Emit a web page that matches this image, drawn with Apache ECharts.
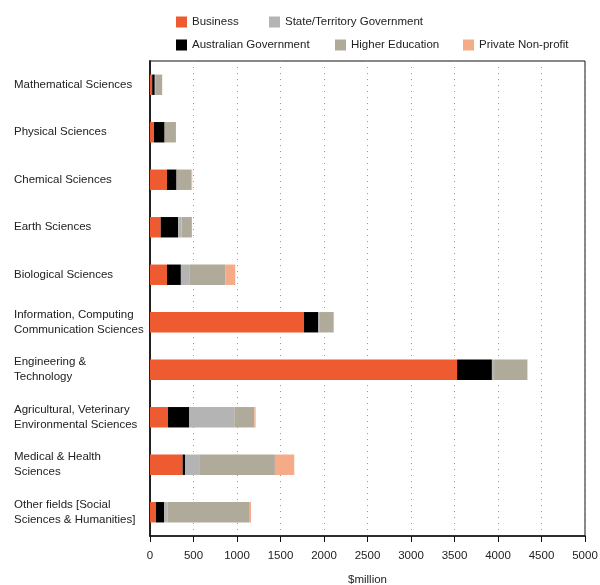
<!DOCTYPE html>
<html>
<head>
<meta charset="utf-8">
<script src="https://cdn.jsdelivr.net/npm/echarts@6/dist/echarts.min.js"></script>
<style>
  html, body { margin: 0; padding: 0; background: #fff; }
  #chart { width: 600px; height: 585px; }
</style>
</head>
<body>
<div id="chart"></div>
<script>
// categorias (de cima para baixo)
const categorias = [
  'Mathematical Sciences',
  'Physical Sciences',
  'Chemical Sciences',
  'Earth Sciences',
  'Biological Sciences',
  'Information, Computing\nCommunication Sciences',
  'Engineering &\nTechnology',
  'Agricultural, Veterinary\nEnvironmental Sciences',
  'Medical & Health\nSciences',
  'Other fields [Social\nSciences & Humanities]'
];

// $million por setor
const business       = [25, 45, 195, 123, 195, 1770, 3530, 207, 375, 69];
const ausGov         = [30, 123, 110, 200, 160, 165, 400, 245, 27, 92];
const stateGov       = [5, 0, 0, 40, 103, 10, 25, 517, 172, 42];
const higherEd       = [80, 130, 172, 118, 407, 160, 380, 230, 862, 935];
const privateNonProf = [0, 0, 8, 0, 115, 10, 5, 15, 222, 23];

const xTicks = [0, 500, 1000, 1500, 2000, 2500, 3000, 3500, 4000, 4500, 5000];

const cores = {
  'Business': '#EE5B30',
  'Australian Government': '#000000',
  'State/Territory Government': '#B4B4B4',
  'Higher Education': '#B0AA9A',
  'Private Non-profit': '#F5AB88'
};

const fonte = 'Liberation Sans, Arial, sans-serif';

function serie(nome, dados) {
  return {
    name: nome,
    type: 'bar',
    stack: 'total',
    barWidth: '43%',
    data: dados,
    itemStyle: { color: cores[nome] }
  };
}

// uma legenda por item para posicionar igual ao original
function legenda(nome, left, top) {
  return {
    data: [nome],
    left: left,
    top: top,
    itemWidth: 11,
    itemHeight: 11,
    icon: 'rect',
    padding: 0,
    itemGap: 0,
    textStyle: { fontFamily: fonte, fontSize: 11.5, color: '#222' },
    selectedMode: false
  };
}

const grafico = echarts.init(document.getElementById('chart'));

const opcoes = {
  animation: false,
  legend: [
    legenda('Business', 176, 16),
    legenda('State/Territory Government', 269, 16),
    legenda('Australian Government', 176, 39),
    legenda('Higher Education', 335, 39),
    legenda('Private Non-profit', 463, 39)
  ],
  grid: {
    left: 150,
    right: 15,
    top: 61,
    bottom: 49,
    outerBoundsMode: 'none',
    containLabel: false,
    show: true,
    borderColor: '#111',
    borderWidth: 1
  },
  xAxis: {
    type: 'value',
    min: 0,
    max: 5000,
    interval: 500,
    name: '$million',
    nameLocation: 'middle',
    nameGap: 38,
    nameTextStyle: { fontFamily: fonte, fontSize: 11.5, color: '#222' },
    axisLine: { show: true, lineStyle: { color: '#111', width: 1.5 } },
    axisTick: { show: true, length: 6, lineStyle: { color: '#111' } },
    axisLabel: {
      fontFamily: fonte, fontSize: 11.5, color: '#222', margin: 14,
      formatter: v => xTicks.includes(v) ? String(v) : ''
    },
    splitLine: { show: true, lineStyle: { color: '#999', type: [1, 5], width: 1 } }
  },
  yAxis: {
    type: 'category',
    data: categorias,
    inverse: true,
    axisLine: { show: true, lineStyle: { color: '#222', width: 2 } },
    axisTick: { show: false },
    axisLabel: {
      fontFamily: fonte, fontSize: 11.5, color: '#222',
      align: 'left', margin: 136, lineHeight: 15
    }
  },
  series: [
    serie('Business', business),
    serie('Australian Government', ausGov),
    serie('State/Territory Government', stateGov),
    serie('Higher Education', higherEd),
    serie('Private Non-profit', privateNonProf)
  ]
};

grafico.setOption(opcoes);
window.addEventListener('resize', () => grafico.resize());
</script>
</body>
</html>
